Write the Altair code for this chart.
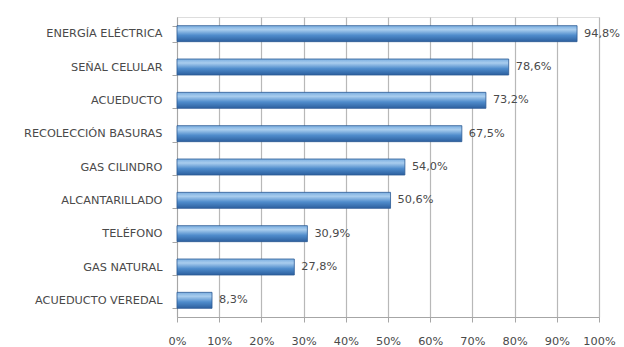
import altair as alt
import pandas as pd

categories = ["ENERGÍA ELÉCTRICA", "SEÑAL CELULAR", "ACUEDUCTO", "RECOLECCIÓN BASURAS",
              "GAS CILINDRO", "ALCANTARILLADO", "TELÉFONO", "GAS NATURAL", "ACUEDUCTO VEREDAL"]
values = [94.8, 78.6, 73.2, 67.5, 54.0, 50.6, 30.9, 27.8, 8.3]

df = pd.DataFrame({"cat": categories, "val": values})

FONT = "DejaVu Sans"
FS = 11.3
TXT = "#4a4a4a"

y_enc = alt.Y("cat:N", sort=categories, title=None,
              scale=alt.Scale(paddingInner=0.52, paddingOuter=0.26),
              axis=alt.Axis(labelFont=FONT, labelFontSize=FS, labelColor=TXT,
                            labelPadding=10, domainColor="#a6a6a6", tickColor="#a6a6a6",
                            tickSize=5, tickBand="extent", grid=False, labelLimit=220))
x_enc = alt.X("val:Q", title=None,
              scale=alt.Scale(domain=[0, 100], nice=False),
              axis=alt.Axis(values=list(range(0, 101, 10)), labelExpr="datum.value + '%'",
                            labelFont=FONT, labelFontSize=FS, labelColor=TXT, labelFlush=False,
                            labelOverlap=False,
                            labelPadding=13, domainColor="#a6a6a6", tickColor="#a6a6a6",
                            tickSize=5, grid=True, gridColor="#b8b8b8", gridWidth=1.2))

grad = alt.Gradient(gradient="linear", x1=0, x2=0, y1=0, y2=1,
                    stops=[alt.GradientStop(color="#7aaee0", offset=0),
                           alt.GradientStop(color="#a9cdee", offset=0.25),
                           alt.GradientStop(color="#4f8ccc", offset=0.6),
                           alt.GradientStop(color="#2c5f9e", offset=1)])

bars = alt.Chart(df).mark_bar(color=grad, stroke="#2c5a94", strokeWidth=0.8).encode(y=y_enc, x=x_enc)

text = alt.Chart(df).transform_calculate(
    lbl="replace(format(datum.val, '.1f'), '.', ',') + '%'"
).mark_text(align="left", baseline="middle", dx=7, font=FONT, fontSize=FS, color=TXT).encode(
    y=alt.Y("cat:N", sort=categories), x="val:Q", text="lbl:N")

chart = alt.layer(bars, text).properties(
    width=422, height=300,
    autosize=alt.AutoSizeParams(type="none"),
    padding={"left": 177, "top": 17, "right": 25, "bottom": 30},
).configure_view(stroke=None).configure(background="white")

chart.save("out.html", embed_options={"renderer": "svg", "actions": False})
